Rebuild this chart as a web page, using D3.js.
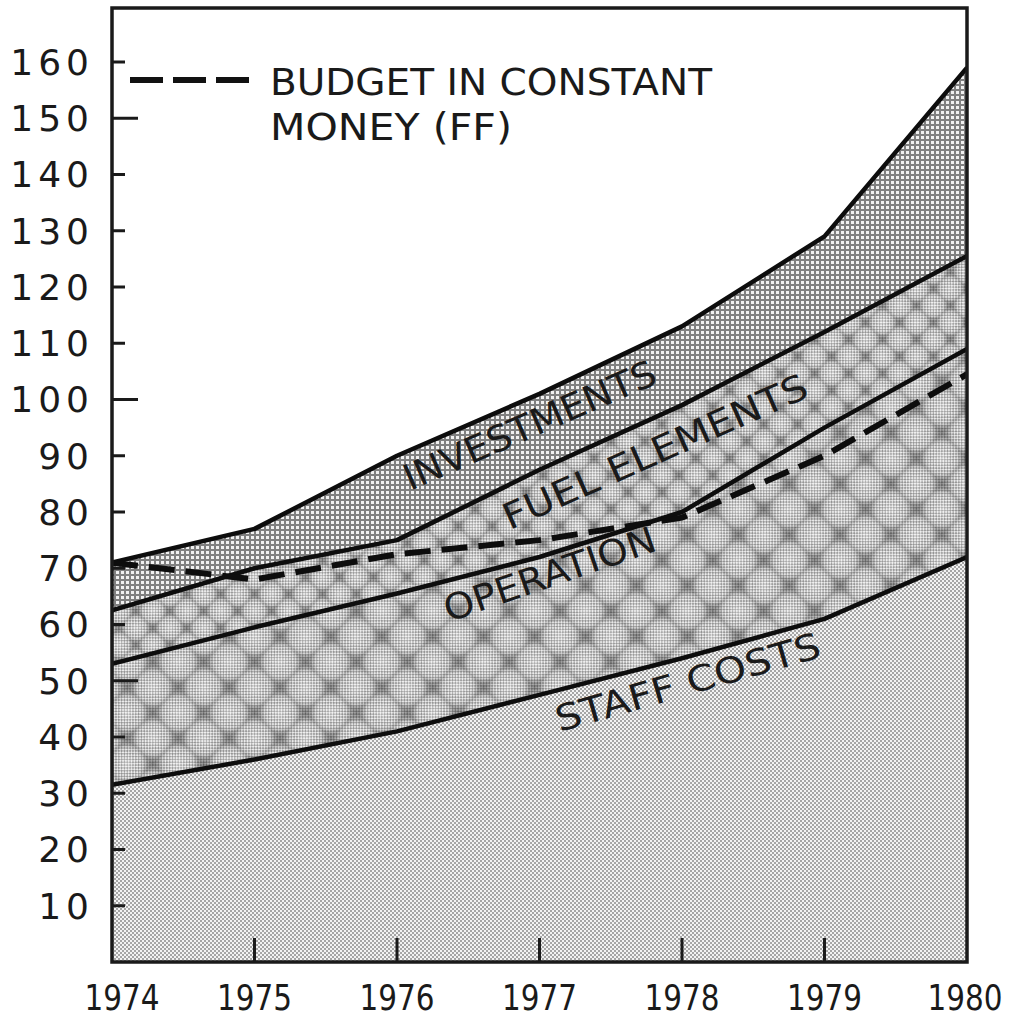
<!DOCTYPE html>
<html>
<head>
<meta charset="utf-8">
<script src="https://cdnjs.cloudflare.com/ajax/libs/d3/7.8.5/d3.min.js"></script>
<style>
  html, body { margin: 0; padding: 0; background: #ffffff; overflow: hidden; }
  svg { display: block; }
  text { font-family: "DejaVu Sans", "Liberation Sans", sans-serif; fill: #1a1a1a; }
</style>
</head>
<body>
<svg id="chart" width="1014" height="1021"></svg>
<script>
// Annual budget breakdown, 1974-1980 (stacked components, FF)
const years = [1974, 1975, 1976, 1977, 1978, 1979, 1980];
const staffCosts   = [31.5, 36, 41, 47.5, 54, 61, 72];
const operation    = [21.5, 23.5, 24.5, 24.5, 26, 34, 37];
const fuelElements = [9.5, 10.5, 9.5, 15.5, 19, 17, 16.5];
const investments  = [8.5, 7, 15, 13.5, 14, 17, 33.5];
const budgetConstantMoney = [71, 68, 72.5, 75, 79, 90, 104.5];

const yTickValues = [10, 20, 30, 40, 50, 60, 70, 80, 90, 100, 110, 120, 130, 140, 150, 160];
const seriesKeys = ["staff", "operation", "fuel", "investments"];
const seriesLabels = ["STAFF COSTS", "OPERATION", "FUEL ELEMENTS", "INVESTMENTS"];
const legendLines = ["BUDGET IN CONSTANT", "MONEY (FF)"];

const rows = years.map((yr, i) => ({
  year: yr,
  staff: staffCosts[i],
  operation: operation[i],
  fuel: fuelElements[i],
  investments: investments[i]
}));

const plot = { left: 112, right: 967, top: 8, bottom: 962 };
const svg = d3.select("#chart");

const x = d3.scaleLinear().domain([1974, 1980]).range([plot.left, plot.right]);
const y = d3.scaleLinear().domain([0, 169.6]).range([plot.bottom, plot.top]);

const stacked = d3.stack().keys(seriesKeys)(rows);

// ---------- fill patterns ----------
const defs = svg.append("defs");

function checker(id, dark, light) {
  const p = defs.append("pattern").attr("id", id)
    .attr("patternUnits", "userSpaceOnUse").attr("width", 4).attr("height", 4);
  p.append("rect").attr("width", 4).attr("height", 4).attr("fill", light);
  p.append("rect").attr("width", 2).attr("height", 2).attr("fill", dark);
  p.append("rect").attr("x", 2).attr("y", 2).attr("width", 2).attr("height", 2).attr("fill", dark);
}
checker("dotLight", "#a6a6a6", "#f3f3f3");
checker("dotMid", "#939393", "#ececec");

// soft shading that turns each rotated cell into a light-centred diamond
const shade = defs.append("radialGradient").attr("id", "cellShade")
  .attr("cx", 0.5).attr("cy", 0.5).attr("r", 0.72);
shade.append("stop").attr("offset", 0).attr("stop-color", "#ffffff").attr("stop-opacity", 0.3);
shade.append("stop").attr("offset", 0.45).attr("stop-color", "#ffffff").attr("stop-opacity", 0);
shade.append("stop").attr("offset", 0.75).attr("stop-color", "#000000").attr("stop-opacity", 0.22);
shade.append("stop").attr("offset", 1).attr("stop-color", "#000000").attr("stop-opacity", 0.38);

function diamonds(id, size) {
  const p = defs.append("pattern").attr("id", id)
    .attr("patternUnits", "userSpaceOnUse").attr("width", size).attr("height", size)
    .attr("patternTransform", "rotate(45)");
  p.append("rect").attr("width", size).attr("height", size).attr("fill", "url(#dotMid)");
  p.append("rect").attr("width", size).attr("height", size).attr("fill", "url(#cellShade)");
}
diamonds("diamondLarge", 36);
diamonds("diamondSmall", 24);

const mesh = defs.append("pattern").attr("id", "mesh")
  .attr("patternUnits", "userSpaceOnUse").attr("width", 5).attr("height", 5);
mesh.append("rect").attr("width", 5).attr("height", 5).attr("fill", "#808080");
mesh.append("rect").attr("x", 1).attr("y", 1).attr("width", 3).attr("height", 3).attr("fill", "#f0f0f0");

const fills = {
  staff: "url(#dotLight)",
  operation: "url(#diamondLarge)",
  fuel: "url(#diamondSmall)",
  investments: "url(#mesh)"
};

defs.append("clipPath").attr("id", "plotClip")
  .append("rect").attr("x", plot.left).attr("y", plot.top)
  .attr("width", plot.right - plot.left).attr("height", plot.bottom - plot.top);

// ---------- stacked areas ----------
const area = d3.area()
  .x(d => x(d.data.year))
  .y0(d => y(d[0]))
  .y1(d => y(d[1]));

const g = svg.append("g").attr("clip-path", "url(#plotClip)");

g.selectAll("path.band").data(stacked).join("path")
  .attr("class", "band")
  .attr("d", area)
  .attr("fill", d => fills[d.key]);

// boundary lines on top of each band
const topLine = d3.line().x(d => x(d.data.year)).y(d => y(d[1]));
g.selectAll("path.edge").data(stacked).join("path")
  .attr("class", "edge")
  .attr("d", topLine)
  .attr("fill", "none")
  .attr("stroke", "#0d0d0d")
  .attr("stroke-width", 4.5)
  .attr("stroke-linejoin", "round");

// budget in constant money (dashed)
const budgetLine = d3.line().x((d, i) => x(years[i])).y(d => y(d));
g.append("path")
  .attr("d", budgetLine(budgetConstantMoney))
  .attr("fill", "none")
  .attr("stroke", "#0d0d0d")
  .attr("stroke-width", 6)
  .attr("stroke-dasharray", "26,11");

// ---------- frame and axes ----------
svg.append("rect")
  .attr("x", plot.left).attr("y", plot.top)
  .attr("width", plot.right - plot.left).attr("height", plot.bottom - plot.top)
  .attr("fill", "none").attr("stroke", "#1a1a1a").attr("stroke-width", 3.5);

// y axis: ticks point inward, longer every 50
const yAxis = svg.append("g");
yAxis.selectAll("line").data(yTickValues).join("line")
  .attr("x1", plot.left)
  .attr("x2", d => plot.left + (d % 50 === 0 ? 26 : 13))
  .attr("y1", d => y(d)).attr("y2", d => y(d))
  .attr("stroke", "#1a1a1a").attr("stroke-width", 3);
yAxis.selectAll("text").data(yTickValues).join("text")
  .attr("x", 94)
  .attr("y", d => y(d))
  .attr("dy", "0.36em")
  .attr("text-anchor", "end")
  .attr("font-size", 36)
  .attr("letter-spacing", 5)
  .text(d => d);

// x axis: ticks point upward from the bottom edge; year labels are narrowed horizontally
const xAxis = svg.append("g");
xAxis.selectAll("line").data(years.slice(1, -1)).join("line")
  .attr("x1", d => x(d)).attr("x2", d => x(d))
  .attr("y1", plot.bottom).attr("y2", plot.bottom - 24)
  .attr("stroke", "#1a1a1a").attr("stroke-width", 3);
const lastYear = years.length - 1;
xAxis.selectAll("text").data(years).join("text")
  .attr("transform", (d, i) => {
    const cx = i === 0 ? x(d) + 10 : i === lastYear ? x(d) - 2 : x(d);
    return `translate(${cx},1010) scale(0.82,1)`;
  })
  .attr("text-anchor", "middle")
  .attr("font-size", 36)
  .text(d => d);

// ---------- legend ----------
svg.append("line")
  .attr("x1", 130).attr("x2", 252)
  .attr("y1", 80).attr("y2", 80)
  .attr("stroke", "#111").attr("stroke-width", 6)
  .attr("stroke-dasharray", "33,10");
svg.append("text").attr("x", 270).attr("y", 95)
  .attr("font-size", 37).attr("textLength", 442).attr("lengthAdjust", "spacingAndGlyphs")
  .text(legendLines[0]);
svg.append("text").attr("x", 270).attr("y", 140)
  .attr("font-size", 37).attr("textLength", 242).attr("lengthAdjust", "spacingAndGlyphs")
  .text(legendLines[1]);

// ---------- band labels, slanted along each band ----------
const bandLabels = [
  { text: seriesLabels[0], year: 1978.04, value: 49.8, angle: -16, len: 274 },
  { text: seriesLabels[1], year: 1977.07, value: 69.0, angle: -19, len: 222 },
  { text: seriesLabels[2], year: 1977.81, value: 90.8, angle: -24, len: 330 },
  { text: seriesLabels[3], year: 1976.93, value: 95.5, angle: -23.5, len: 272 }
];
svg.selectAll("text.band-label").data(bandLabels).join("text")
  .attr("class", "band-label")
  .attr("transform", d => `translate(${x(d.year)},${y(d.value)}) rotate(${d.angle})`)
  .attr("text-anchor", "middle")
  .attr("dy", "0.36em")
  .attr("font-size", 36)
  .attr("textLength", d => d.len)
  .attr("lengthAdjust", "spacingAndGlyphs")
  .text(d => d.text);
</script>
</body>
</html>
